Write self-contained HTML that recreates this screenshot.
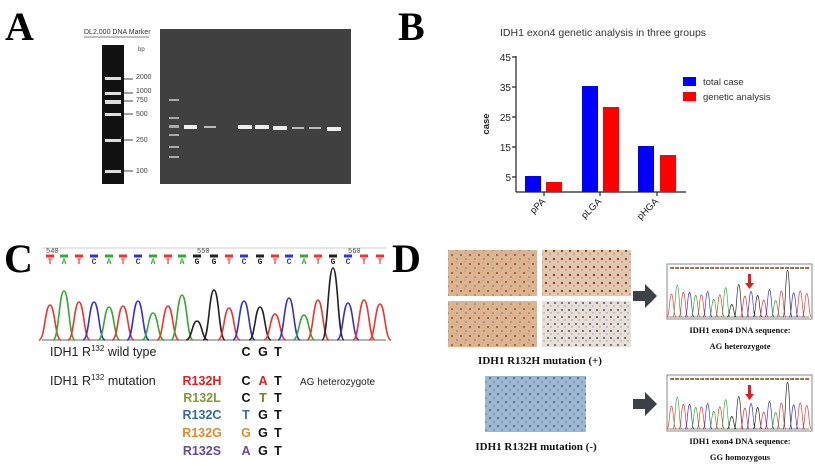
<!DOCTYPE html>
<html><head><meta charset="utf-8"><style>html,body{margin:0;padding:0;background:#fff}svg{display:block}</style></head>
<body>
<svg width="815" height="466" viewBox="0 0 815 466" xmlns="http://www.w3.org/2000/svg">
<defs>
<pattern id="brown" width="9" height="9" patternUnits="userSpaceOnUse"><rect width="9" height="9" fill="#dcb48f"/><circle cx="2" cy="3" r="1.1" fill="#a0603a"/><circle cx="7" cy="7" r="0.8" fill="#6f6a8a"/><circle cx="6" cy="1" r="0.6" fill="#c49070"/></pattern>
<pattern id="brown2" width="8" height="8" patternUnits="userSpaceOnUse"><rect width="8" height="8" fill="#e3c7ad"/><circle cx="2" cy="3" r="1.2" fill="#8f4a2a"/><circle cx="6" cy="6" r="0.7" fill="#7a7aa0"/></pattern>
<pattern id="grey" width="7" height="7" patternUnits="userSpaceOnUse"><rect width="7" height="7" fill="#e6e0da"/><circle cx="2" cy="2" r="1" fill="#6b4a3a"/><circle cx="5" cy="5" r="0.7" fill="#8f8fa8"/></pattern>
<pattern id="blue" width="8" height="8" patternUnits="userSpaceOnUse"><rect width="8" height="8" fill="#9fb8cf"/><circle cx="2" cy="2" r="1.3" fill="#5a7fae"/><circle cx="6" cy="6" r="1" fill="#6d8fbb"/></pattern>
</defs>

<!-- Panel A -->
<text x="5" y="40" font-family="Liberation Serif" font-weight="bold" font-size="40">A</text>
<text x="84" y="34" font-family="Liberation Sans" font-size="7" fill="#333">DL2,000 DNA Marker</text>
<line x1="84" y1="37" x2="149" y2="37" stroke="#555" stroke-width="0.8"/>
<text x="138" y="51" font-family="Liberation Sans" font-size="6" fill="#444">bp</text>
<rect x="102" y="45" width="22" height="139" fill="#111"/>
<g fill="#ddd">
<rect x="105" y="77" width="16" height="3"/><rect x="105" y="92" width="16" height="3"/><rect x="105" y="100" width="16" height="4"/>
<rect x="105" y="113" width="16" height="3"/><rect x="105" y="139" width="16" height="3"/><rect x="105" y="170" width="16" height="3"/></g>
<g stroke="#444" stroke-width="1"><line x1="124" y1="79" x2="133" y2="79"/><line x1="124" y1="93" x2="133" y2="93"/><line x1="124" y1="101" x2="133" y2="101"/><line x1="124" y1="114" x2="133" y2="114"/><line x1="124" y1="140" x2="133" y2="140"/><line x1="124" y1="171" x2="133" y2="171"/></g>
<g font-family="Liberation Sans" font-size="7" fill="#444"><text x="136" y="79">2000</text><text x="136" y="93">1000</text><text x="136" y="102">750</text><text x="136" y="116">500</text><text x="136" y="142">250</text><text x="136" y="173">100</text></g>
<rect x="160" y="29" width="191" height="155" fill="#404040"/>
<g fill="#aaa"><rect x="169" y="99" width="10" height="2"/><rect x="169" y="117" width="10" height="2"/><rect x="169" y="125" width="10" height="3"/><rect x="169" y="134" width="10" height="2"/><rect x="169" y="146" width="10" height="2"/><rect x="169" y="156" width="10" height="2"/></g>
<g fill="#eee"><rect x="184" y="125" width="13" height="4"/><rect x="238" y="125" width="14" height="4"/><rect x="255" y="125" width="14" height="4"/><rect x="273" y="126" width="14" height="4"/><rect x="327" y="127" width="14" height="4"/></g>
<g fill="#bbb"><rect x="204" y="126" width="12" height="2"/><rect x="292" y="127" width="12" height="2"/><rect x="309" y="127" width="12" height="2"/></g>

<!-- Panel B -->
<text x="398" y="40" font-family="Liberation Serif" font-weight="bold" font-size="40">B</text>
<text x="500" y="36" font-family="Liberation Sans" font-size="10.5" fill="#333">IDH1 exon4 genetic analysis in three groups</text>
<g stroke="#222" stroke-width="1.2"><line x1="516" y1="56" x2="516" y2="192"/><line x1="516" y1="192" x2="686" y2="192"/>
<line x1="512" y1="57" x2="516" y2="57"/><line x1="512" y1="87" x2="516" y2="87"/><line x1="512" y1="117" x2="516" y2="117"/><line x1="512" y1="147" x2="516" y2="147"/><line x1="512" y1="177" x2="516" y2="177"/>
<line x1="544" y1="192" x2="544" y2="196"/><line x1="600" y1="192" x2="600" y2="196"/><line x1="657" y1="192" x2="657" y2="196"/></g>
<g font-family="Liberation Sans" font-size="10" fill="#222" text-anchor="end"><text x="511" y="61">45</text><text x="511" y="91">35</text><text x="511" y="121">25</text><text x="511" y="151">15</text><text x="511" y="181">5</text></g>
<text transform="translate(489,124) rotate(-90)" font-family="Liberation Sans" font-weight="bold" font-size="9.5" text-anchor="middle" fill="#222">case</text>
<rect x="525" y="176" width="16" height="16" fill="#0000ff"/><rect x="546" y="182" width="16" height="10" fill="#ff0000"/>
<rect x="582" y="86" width="16" height="106" fill="#0000ff"/><rect x="603" y="107" width="16" height="85" fill="#ff0000"/>
<rect x="638" y="146" width="16" height="46" fill="#0000ff"/><rect x="660" y="155" width="16" height="37" fill="#ff0000"/>
<g font-family="Liberation Sans" font-size="9.5" fill="#222" text-anchor="end"><text transform="translate(546,202) rotate(-45)">pPA</text><text transform="translate(602,202) rotate(-45)">pLGA</text><text transform="translate(659,202) rotate(-45)">pHGA</text></g>
<rect x="683" y="77" width="13" height="9" fill="#0000ff"/><rect x="683" y="92" width="13" height="9" fill="#ff0000"/>
<g font-family="Liberation Sans" font-size="9.5" fill="#333"><text x="703" y="85">total case</text><text x="703" y="100">genetic analysis</text></g>

<!-- Panel C -->
<text x="4" y="272" font-family="Liberation Serif" font-weight="bold" font-size="40">C</text>
<line x1="42" y1="248" x2="386" y2="248" stroke="#ccc" stroke-width="1"/>
<g font-family="Liberation Mono" font-size="7" fill="#444"><text x="46" y="253">540</text><text x="197" y="253">550</text><text x="348" y="253">560</text></g>
<g stroke-width="3">
<line x1="46" y1="256" x2="54" y2="256" stroke="#e33"/><line x1="60" y1="256" x2="68" y2="256" stroke="#3a3"/><line x1="75" y1="256" x2="83" y2="256" stroke="#e33"/><line x1="90" y1="256" x2="98" y2="256" stroke="#33c"/><line x1="105" y1="256" x2="113" y2="256" stroke="#3a3"/><line x1="119" y1="256" x2="127" y2="256" stroke="#e33"/><line x1="134" y1="256" x2="142" y2="256" stroke="#33c"/><line x1="149" y1="256" x2="157" y2="256" stroke="#3a3"/><line x1="164" y1="256" x2="172" y2="256" stroke="#e33"/><line x1="178" y1="256" x2="186" y2="256" stroke="#3a3"/><line x1="193" y1="256" x2="201" y2="256" stroke="#222"/><line x1="210" y1="256" x2="218" y2="256" stroke="#222"/><line x1="225" y1="256" x2="233" y2="256" stroke="#e33"/><line x1="240" y1="256" x2="248" y2="256" stroke="#33c"/><line x1="256" y1="256" x2="264" y2="256" stroke="#222"/><line x1="271" y1="256" x2="279" y2="256" stroke="#e33"/><line x1="285" y1="256" x2="293" y2="256" stroke="#33c"/><line x1="300" y1="256" x2="308" y2="256" stroke="#3a3"/><line x1="314" y1="256" x2="322" y2="256" stroke="#e33"/><line x1="329" y1="256" x2="337" y2="256" stroke="#222"/><line x1="344" y1="256" x2="352" y2="256" stroke="#33c"/><line x1="360" y1="256" x2="368" y2="256" stroke="#e33"/><line x1="376" y1="256" x2="384" y2="256" stroke="#e33"/></g>
<g font-family="Liberation Mono" font-size="8" font-weight="bold" text-anchor="middle">
<text x="50" y="264" fill="#e33">T</text><text x="64" y="264" fill="#3a3">A</text><text x="79" y="264" fill="#e33">T</text><text x="94" y="264" fill="#33c">C</text><text x="109" y="264" fill="#3a3">A</text><text x="123" y="264" fill="#e33">T</text><text x="138" y="264" fill="#33c">C</text><text x="153" y="264" fill="#3a3">A</text><text x="168" y="264" fill="#e33">T</text><text x="182" y="264" fill="#3a3">A</text><text x="197" y="264" fill="#222">G</text><text x="214" y="264" fill="#222">G</text><text x="229" y="264" fill="#e33">T</text><text x="244" y="264" fill="#33c">C</text><text x="260" y="264" fill="#222">G</text><text x="275" y="264" fill="#e33">T</text><text x="289" y="264" fill="#33c">C</text><text x="304" y="264" fill="#3a3">A</text><text x="318" y="264" fill="#e33">T</text><text x="333" y="264" fill="#222">G</text><text x="348" y="264" fill="#33c">C</text><text x="364" y="264" fill="#e33">T</text><text x="380" y="264" fill="#e33">T</text></g>
<g id="chrom" fill="none" stroke-width="1.6">
<line x1="42" y1="340" x2="386" y2="340" stroke="#666" stroke-width="1"/>
<path stroke="#e33" d="M39 340C45 340 45 305 50 305C55 305 55 340 61 340"/>
<path stroke="#3a3" d="M53 340C59 340 59 291 64 291C69 291 69 340 75 340"/>
<path stroke="#e33" d="M68 340C74 340 74 302 79 302C84 302 84 340 90 340"/>
<path stroke="#33c" d="M83 340C89 340 89 302 94 302C99 302 99 340 105 340"/>
<path stroke="#3a3" d="M98 340C104 340 104 307 109 307C114 307 114 340 120 340"/>
<path stroke="#e33" d="M112 340C118 340 118 306 123 306C128 306 128 340 134 340"/>
<path stroke="#33c" d="M127 340C133 340 133 301 138 301C143 301 143 340 149 340"/>
<path stroke="#3a3" d="M142 340C148 340 148 313 153 313C158 313 158 340 164 340"/>
<path stroke="#e33" d="M157 340C163 340 163 306 168 306C173 306 173 340 179 340"/>
<path stroke="#3a3" d="M171 340C177 340 177 295 182 295C187 295 187 340 193 340"/>
<path stroke="#222" d="M186 340C192 340 192 321 197 321C202 321 202 340 208 340"/>
<path stroke="#222" d="M203 340C209 340 209 290 214 290C219 290 219 340 225 340"/>
<path stroke="#e33" d="M218 340C224 340 224 308 229 308C234 308 234 340 240 340"/>
<path stroke="#33c" d="M233 340C239 340 239 301 244 301C249 301 249 340 255 340"/>
<path stroke="#222" d="M249 340C255 340 255 307 260 307C265 307 265 340 271 340"/>
<path stroke="#e33" d="M264 340C270 340 270 314 275 314C280 314 280 340 286 340"/>
<path stroke="#33c" d="M278 340C284 340 284 298 289 298C294 298 294 340 300 340"/>
<path stroke="#3a3" d="M293 340C299 340 299 315 304 315C309 315 309 340 315 340"/>
<path stroke="#e33" d="M307 340C313 340 313 300 318 300C323 300 323 340 329 340"/>
<path stroke="#222" d="M322 340C328 340 328 268 333 268C338 268 338 340 344 340"/>
<path stroke="#33c" d="M337 340C343 340 343 303 348 303C353 303 353 340 359 340"/>
<path stroke="#e33" d="M353 340C359 340 359 300 364 300C369 300 369 340 375 340"/>
<path stroke="#e33" d="M369 340C375 340 375 304 380 304C385 304 385 340 391 340"/>
</g>
<g font-family="Liberation Sans" font-size="12.5" fill="#222">
<text x="50" y="356">IDH1 R<tspan font-size="8" dy="-5">132</tspan><tspan dy="5"> wild type</tspan></text>
<text x="50" y="385">IDH1 R<tspan font-size="8" dy="-5">132</tspan><tspan dy="5"> mutation</tspan></text>
<text x="300" y="385" font-size="10">AG heterozygote</text></g>
<g font-family="Liberation Sans" font-size="12.5" font-weight="bold" text-anchor="middle">
<text x="246" y="356" fill="#111">C</text><text x="263" y="356" fill="#111">G</text><text x="278" y="356" fill="#111">T</text>
<text x="202" y="385" fill="#e02020">R132H</text><text x="246" y="385" fill="#111">C</text><text x="263" y="385" fill="#e02020">A</text><text x="278" y="385" fill="#111">T</text>
<text x="202" y="402" fill="#7f9a3a">R132L</text><text x="246" y="402" fill="#111">C</text><text x="263" y="402" fill="#7f7a2a">T</text><text x="278" y="402" fill="#111">T</text>
<text x="202" y="419" fill="#3b6aa0">R132C</text><text x="246" y="419" fill="#3b6aa0">T</text><text x="263" y="419" fill="#111">G</text><text x="278" y="419" fill="#111">T</text>
<text x="202" y="437" fill="#e08a2a">R132G</text><text x="246" y="437" fill="#e08a2a">G</text><text x="263" y="437" fill="#111">G</text><text x="278" y="437" fill="#111">T</text>
<text x="202" y="455" fill="#6a4a8f">R132S</text><text x="246" y="455" fill="#6a4a8f">A</text><text x="263" y="455" fill="#111">G</text><text x="278" y="455" fill="#111">T</text></g>

<!-- Panel D -->
<text x="392" y="272" font-family="Liberation Serif" font-weight="bold" font-size="40">D</text>
<rect x="448" y="250" width="89" height="46" fill="url(#brown)"/>
<rect x="542" y="250" width="89" height="46" fill="url(#brown2)"/>
<rect x="448" y="301" width="89" height="46" fill="url(#brown)"/>
<rect x="542" y="301" width="89" height="46" fill="url(#grey)"/>
<rect x="485" y="376" width="101" height="56" fill="url(#blue)"/>
<g font-family="Liberation Serif" font-weight="bold" font-size="11" fill="#111" text-anchor="middle">
<text x="540" y="364">IDH1 R132H mutation (+)</text><text x="536" y="450">IDH1 R132H mutation (-)</text></g>
<g fill="#3c4148"><path d="M633 291h12v-7l12 12-12 12v-7h-12z"/><path d="M633 399h12v-7l12 12-12 12v-7h-12z"/></g>
<rect x="667" y="264" width="145" height="55" fill="#fff" stroke="#888"/>
<rect x="667" y="375" width="145" height="56" fill="#fff" stroke="#888"/>
<g stroke-dasharray="2 3" stroke-width="2"><line x1="670" y1="268" x2="810" y2="268" stroke="#5a5"/><line x1="670" y1="379" x2="810" y2="379" stroke="#5a5"/><line x1="672" y1="268" x2="810" y2="268" stroke="#d44"/><line x1="672" y1="379" x2="810" y2="379" stroke="#d44"/></g>
<use href="#chrom" transform="translate(651,96) scale(0.41,0.65)"/>
<use href="#chrom" transform="translate(651,208) scale(0.41,0.65)"/>
<g fill="#e02020"><path d="M748 274h3v9h3l-4.5 6-4.5-6h3z"/><path d="M748 385h3v9h3l-4.5 6-4.5-6h3z"/></g>
<g font-family="Liberation Serif" font-weight="bold" font-size="8.5" fill="#111" text-anchor="middle">
<text x="740" y="333">IDH1 exon4 DNA sequence:</text><text x="740" y="349">AG heterozygote</text>
<text x="740" y="444">IDH1 exon4 DNA sequence:</text><text x="740" y="460">GG homozygous</text></g>
</svg>
</body></html>
